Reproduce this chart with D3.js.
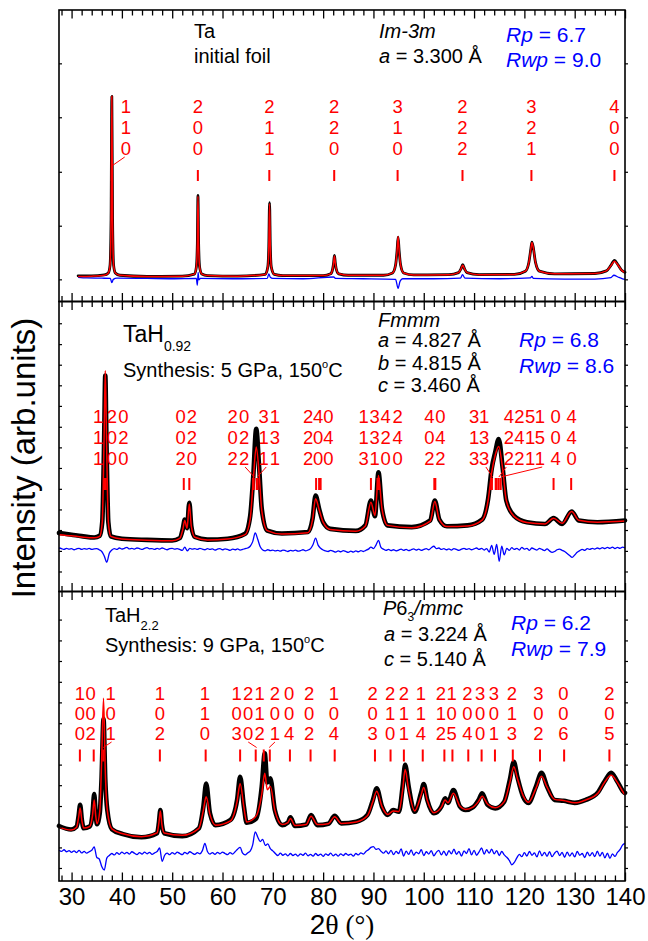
<!DOCTYPE html>
<html>
<head>
<meta charset="utf-8">
<script src="https://cdn.jsdelivr.net/npm/d3@7"></script>
<style>
  html, body { margin: 0; padding: 0; background: #fff; }
  svg text { font-family: Arial, "Liberation Sans", sans-serif; }
</style>
</head>
<body>
<svg id="chart" width="648" height="941"></svg>
<script>
/* XRD Rietveld fits: Ta foil, TaH0.92 (Fmmm), TaH2.2 (P63/mmc) — obs / calc / diff + hkl marks */

// ---- axis ----
var xDomain = [27.5, 140];
var xMajor = [30, 40, 50, 60, 70, 80, 90, 100, 110, 120, 130, 140];
var xMinor = [28, 32, 34, 36, 38, 42, 44, 46, 48, 52, 54, 56, 58, 62, 64, 66, 68, 72, 74, 76, 78,
  82, 84, 86, 88, 92, 94, 96, 98, 102, 104, 106, 108, 112, 114, 116, 118, 122, 124, 126, 128, 132, 134, 136, 138];

// ---- panel 1: Ta initial foil ----  [2theta, obs, calc]
var taProfile = [
  [31.3, 8.8, 8.6], [34, 8.8, 8.7], [36.5, 9.1, 9.0], [37.3, 9.8, 9.8], [37.65, 12.5, 12.5], [37.85, 28, 28],
  [38.0, 70.4, 70.4], [38.15, 28, 28], [38.35, 12.5, 12.5], [38.7, 9.8, 9.8], [39.6, 9.0, 9.0], [45, 8.6, 8.6],
  [52, 8.7, 8.7], [54.4, 9.4, 9.4], [54.8, 11.8, 11.8], [55.0, 20, 20], [55.12, 36.4, 36.2], [55.25, 20, 20],
  [55.45, 11.8, 11.8], [55.9, 9.4, 9.4], [57, 8.9, 8.9], [63, 8.7, 8.7], [68.5, 9.3, 9.3], [69.0, 11.8, 11.8],
  [69.2, 19, 19], [69.35, 33.9, 33.5], [69.5, 19, 19], [69.7, 11.8, 11.8], [70.3, 9.3, 9.3], [72, 8.9, 8.9],
  [80, 8.9, 8.9], [81.5, 9.5, 9.5], [81.9, 11.2, 11.2], [82.1, 13.5, 13.5], [82.25, 15.8, 15.6], [82.4, 13.5, 13.5],
  [82.6, 11.2, 11.2], [83.1, 9.5, 9.5], [85, 9.0, 9.0], [92, 9.0, 9.0], [93.8, 9.8, 9.8], [94.4, 12.5, 12.5],
  [94.7, 17.5, 17.5], [94.9, 22.1, 22.3], [95.1, 17.5, 17.5], [95.4, 12.5, 12.5], [96.0, 9.8, 9.8], [98, 9.1, 9.1],
  [105, 9.2, 9.2], [106.9, 9.9, 9.9], [107.4, 11.2, 11.2], [107.75, 12.6, 12.4], [108.1, 11.2, 11.2], [108.6, 9.9, 9.9],
  [111, 9.2, 9.2], [118, 9.3, 9.3], [120.2, 10.4, 10.4], [120.9, 13.5, 13.5], [121.3, 18.2, 18.2], [121.5, 20.4, 20.2],
  [121.8, 18.2, 18.2], [122.2, 13.5, 13.5], [123, 10.4, 10.4], [126, 9.5, 9.5], [134, 9.6, 9.6], [136.3, 10.5, 10.5],
  [137.2, 12.4, 12.3], [137.9, 14.1, 13.8], [138.6, 12.6, 12.5], [139.4, 10.6, 10.6], [140, 10.0, 10.0]
];
var taDiff = [
  [31.3, 8.3], [33, 8.1], [36, 8.0], [37.7, 7.9], [38.0, 6.5], [38.3, 7.6], [39, 8.0], [45, 7.9], [50, 7.8],
  [54.8, 7.9], [55.0, 5.6], [55.15, 10.0], [55.3, 7.4], [55.6, 7.9], [62, 7.8], [68.9, 7.9], [69.2, 9.5],
  [69.5, 8.3], [70, 7.9], [76, 7.8], [82.1, 8.4], [82.5, 7.9], [88, 7.8], [94.4, 7.6], [94.9, 4.5], [95.3, 7.0],
  [95.8, 7.8], [102, 7.8], [107.3, 8.0], [107.7, 9.2], [108.2, 8.0], [115, 7.8], [121.2, 8.1], [121.5, 8.6],
  [121.8, 7.9], [128, 7.7], [134, 7.7], [137.2, 8.2], [137.8, 9.0], [138.6, 8.4], [139.5, 7.8], [140, 7.6]
];
// [hkl, tick 2theta, label 2theta]
var taRefl = [['110', 38.0, 40.8], ['200', 55.1, 55.1], ['211', 69.3, 69.3], ['220', 82.2, 82.2],
  ['310', 94.8, 94.8], ['222', 107.7, 107.7], ['321', 121.4, 121.4], ['400', 137.9, 137.9]];
var taLinks = [[40.56, 37.99]];
var taYTicks = [7.6, 26.0, 44.5, 63.2, 81.7];

// ---- panel 2: TaH0.92 ----
var th1Profile = [
  [27.5, 20.2, 19.6], [30, 19.6, 19.2], [32, 19.1, 18.8], [34.5, 18.6, 18.5], [35.6, 19.2, 19.0], [36.1, 24, 24],
  [36.45, 50, 52], [36.7, 74.5, 76.2], [36.95, 50, 52], [37.3, 24, 24], [37.8, 19.0, 19.0], [40, 18.2, 18.1],
  [45, 17.8, 17.7], [50, 17.6, 17.5], [51.5, 18.4, 18.3], [52.1, 21.5, 21.3], [52.5, 24.8, 24.5], [52.95, 21.8, 21.8],
  [53.4, 30.6, 30.2], [53.8, 22.5, 22.5], [54.5, 18.8, 18.7], [57, 17.9, 17.8], [61, 18.2, 18.1], [64.5, 19.9, 19.6],
  [65.5, 26, 25], [66.1, 39.4, 38], [66.7, 56.1, 49.8], [67.3, 42.3, 40], [67.8, 28.5, 28], [68.9, 21, 21],
  [71.8, 20.0, 19.8], [77.0, 20.5, 20.3], [77.9, 25.1, 24.8], [78.5, 33.1, 32], [79.2, 28.5, 28.3], [80.0, 23.9, 23.9],
  [81.4, 21.6, 21.4], [86.5, 20.9, 20.8], [88.4, 22.8, 22.6], [89.5, 31.4, 30.8], [90.3, 26.0, 26.2], [91.0, 41.1, 40.0],
  [91.7, 28.5, 28.5], [92.8, 22.8, 22.8], [97.6, 22.2, 22.0], [101.3, 24.5, 24.3], [102.2, 31.4, 31.0], [103.1, 24.8, 24.8],
  [104.6, 22.5, 22.4], [108.7, 22.8, 22.6], [111.6, 24.8, 24.6], [112.8, 32, 31.5], [113.5, 42.3, 41], [114.2, 48, 47],
  [114.9, 52.6, 50], [115.7, 42.3, 42], [116.4, 31.4, 31.4], [117.9, 26.2, 26], [120.5, 23.9, 23.8], [124.1, 23.3, 23.3],
  [125.8, 25.3, 25.3], [127.5, 23.3, 23.5], [129.4, 27.6, 27.6], [130.8, 24.5, 24.6], [134.5, 23.9, 23.9], [140, 24.5, 24.3]
];
var diffStart = 27.5, diffStep = 0.5;
var th1Diff = [
  15.0, 14.8, 14.5, 14.9, 14.6, 14.8, 14.4, 14.7, 14.9, 14.5,
  14.8, 14.6, 14.9, 14.5, 14.7, 14.8, 14.4, 13.8, 12.2, 10.1,
  13.2, 14.3, 14.8, 14.5, 15.0, 14.6, 14.9, 15.2, 14.7, 14.9,
  14.6, 15.0, 14.8, 14.5, 14.9, 15.1, 14.7, 14.8, 14.5, 14.9,
  14.6, 15.0, 14.7, 14.4, 14.8, 14.9, 14.6, 14.8, 14.5, 14.2,
  15.3, 14.0, 14.9, 14.6, 14.8, 14.5, 14.9, 14.6, 14.4, 14.8,
  14.5, 14.7, 14.3, 14.6, 14.8, 14.4, 14.7, 14.5, 14.2, 14.6,
  14.4, 14.7, 14.3, 14.5, 14.8, 15.0, 15.6, 17.2, 20.2, 18.0,
  15.4, 14.3, 14.0, 14.4, 14.1, 14.3, 14.0, 14.2, 13.9, 14.3,
  14.1, 13.8, 14.2, 14.0, 14.3, 13.9, 14.1, 14.4, 14.0, 14.3,
  14.8, 16.2, 18.4, 16.0, 14.9, 14.3, 14.0, 13.8, 14.2, 13.9,
  13.6, 14.0, 13.7, 14.1, 13.8, 13.5, 13.9, 13.6, 14.0, 13.7,
  14.1, 13.8, 14.2, 14.6, 15.3, 14.8, 16.0, 17.6, 15.2, 14.6,
  14.2, 14.5, 14.1, 14.4, 14.0, 14.3, 14.6, 14.2, 14.5, 14.1,
  14.4, 14.7, 14.3, 14.6, 14.2, 14.5, 14.8, 14.4, 15.1, 15.6,
  14.8, 15.0, 14.5, 14.8, 14.4, 14.7, 14.3, 14.8, 14.5, 14.2,
  14.6, 14.9, 14.5, 14.8, 14.4, 14.7, 15.0, 14.5, 14.9, 14.3,
  14.8, 13.6, 15.9, 12.8, 16.2, 10.4, 15.6, 12.6, 14.9, 14.2,
  15.1, 14.5, 14.9, 14.3, 15.2, 14.6, 14.9, 14.2, 15.0, 14.6,
  14.3, 14.9, 14.5, 14.1, 14.7, 14.0, 13.5, 13.8, 14.4, 14.6,
  14.2, 13.8, 13.1, 12.4, 11.8, 12.6, 13.5, 14.1, 14.5, 14.2,
  14.8, 14.5, 14.9, 14.6, 15.0, 14.7, 15.1, 14.8, 15.2, 14.9,
  15.3, 14.8, 15.2, 14.9, 15.3, 15.0
];
var th1Refl = [
  ['111', 36.5, 35.3], ['200', 36.65, 38.0], ['020', 36.8, 40.3], ['002', 52.3, 51.7], ['220', 53.4, 53.9],
  ['202', 66.1, 62.0], ['022', 66.2, 64.3], ['311', 66.8, 68.2], ['131', 67.0, 70.4],
  ['222', 78.6, 77.0], ['400', 79.2, 79.0], ['040', 79.5, 81.05],
  ['113', 89.5, 88.05], ['331', 90.8, 90.25], ['420', 90.95, 92.45], ['240', 91.1, 94.8],
  ['402', 102.1, 101.1], ['042', 102.3, 103.3], ['313', 113.4, 110.0], ['133', 113.55, 112.0],
  ['422', 114.3, 116.9], ['242', 114.5, 119.0], ['511', 114.9, 121.15], ['151', 115.3, 123.1],
  ['004', 125.8, 126.2], ['440', 129.3, 129.4]
];
var th1Links = [[64.49, 66.32], [68.69, 66.92], [112.35, 113.68], [116.4, 114.93], [123.54, 115.29]];
var th1YTicks = [6.9, 14.0, 21.2, 28.3, 35.4, 42.6, 49.7, 56.8, 64.0, 71.1, 78.2, 85.3, 92.5];

// ---- panel 3: TaH2.2 ----
var th2Profile = [
  [27.5, 19.0, 18.6], [29.9, 17.8, 17.6], [31.0, 18.8, 18.6], [31.4, 22.5, 22], [31.7, 26.3, 25.2], [32.05, 21, 20.8],
  [32.4, 18.2, 18.3], [33.6, 18.8, 18.8], [34.15, 23, 22.5], [34.5, 30, 28], [34.8, 23, 22.5], [35.05, 19.6, 19.8],
  [35.6, 23.4, 24], [35.95, 35, 40], [36.35, 56, 63.1], [36.7, 35, 38], [37.1, 24.5, 24.5], [38.0, 17.9, 18.0],
  [40.2, 16.2, 16.3], [43.9, 15.1, 15.3], [47.0, 16.5, 16.6], [47.35, 20, 20], [47.65, 24.5, 24.2], [47.95, 19.5, 19.5],
  [48.4, 16.5, 16.6], [52.0, 15.5, 15.8], [55.3, 18.2, 18.2], [56.2, 25.7, 24.5], [56.75, 33.7, 29.1], [57.5, 23.4, 23],
  [58.6, 19.3, 19.3], [61.6, 21.1, 20.8], [62.9, 28, 27.5], [63.5, 36, 33.7], [64.25, 25.7, 25.5], [64.8, 20.1, 20.4],
  [66.7, 21.6, 22.5], [67.8, 32.6, 30], [68.4, 44.1, 37.2], [68.9, 34, 31.5], [69.5, 35.5, 32.6], [70.4, 24.5, 24.5],
  [71.85, 19.3, 19.5], [73.0, 20.2, 20.2], [73.5, 22.0, 21.6], [74.4, 19.0, 19.2], [76.65, 19.5, 19.5], [77.6, 22.8, 22.4],
  [78.85, 19.3, 19.5], [81.05, 19.8, 19.8], [82.3, 22.5, 22.2], [83.6, 19.9, 19.9], [86.6, 20.5, 20.4], [88.8, 22.8, 22.5],
  [89.9, 28, 27.5], [90.65, 32.0, 31.0], [91.7, 25.7, 25.7], [92.85, 22.8, 23.0], [93.9, 24.5, 24.2], [95.05, 23.9, 24],
  [95.8, 32.6, 31.5], [96.3, 40.1, 38.5], [97.0, 32.6, 31.5], [98.2, 23.9, 24.2], [99.45, 30.3, 29.5], [100.0, 33.5, 32.3],
  [100.7, 28, 27.8], [102.0, 23.4, 23.6], [103.5, 25.7, 25.5], [104.25, 28.6, 28], [104.8, 27, 27], [105.9, 31.4, 30.3],
  [107.2, 25.7, 25.8], [108.3, 24.5, 24.7], [109.8, 25.5, 25.5], [110.9, 28, 27.5], [111.6, 30.3, 29.3], [112.7, 26.3, 26.5],
  [114.2, 25.1, 25.3], [116.0, 27.4, 27.4], [117.1, 34.9, 34], [117.9, 41.2, 39.5], [118.6, 36, 35.5], [119.75, 29.1, 29.5],
  [120.8, 27, 27.2], [122.3, 32.6, 32], [123.4, 37.4, 36.2], [124.5, 32.6, 32.4], [126.0, 28, 28.2], [127.8, 27.7, 27.8],
  [130.0, 27, 27], [132.2, 28, 28], [134.7, 30.8, 30.5], [135.9, 34.3, 34], [137.25, 37.4, 36.5], [138.5, 34.3, 34],
  [139.7, 30.8, 30.5], [140, 30.4, 29.8]
];
var th2Diff = [
  10.6, 10.2, 10.8, 10.1, 10.5, 9.9, 10.4, 9.8, 10.6, 9.7,
  10.2, 9.6, 10.1, 10.6, 11.8, 8.2, 7.6, 5.0, 3.8, 7.9,
  8.8, 9.5, 9.0, 9.8, 9.2, 10.0, 9.4, 9.9, 9.3, 10.1,
  9.6, 9.1, 9.8, 9.3, 10.0, 9.4, 9.9, 9.2, 9.7, 10.2,
  11.4, 6.8, 8.9, 9.6, 9.1, 9.8, 9.3, 10.0, 9.5, 9.1,
  9.9, 9.4, 10.1, 9.6, 9.2, 9.8, 9.4, 10.5, 13.0, 10.2,
  9.3, 9.8, 9.2, 9.9, 9.4, 10.0, 9.5, 9.1, 9.8, 9.3,
  10.1, 11.0, 11.6, 9.6, 9.0, 9.7, 10.3, 12.5, 17.0, 15.2,
  13.6, 14.4, 12.3, 12.8, 11.2, 10.4, 9.5, 8.8, 9.6, 8.9,
  9.4, 8.7, 9.5, 8.8, 9.3, 8.6, 9.4, 8.9, 9.6, 8.7,
  9.2, 8.6, 9.5, 8.8, 9.3, 8.5, 9.4, 8.9, 9.6, 8.7,
  9.3, 8.6, 9.4, 8.8, 9.5, 8.9, 9.3, 8.6, 9.5, 9.0,
  9.7, 9.3, 10.2, 10.8, 11.6, 11.9, 10.9, 11.2, 10.3, 9.6,
  10.4, 9.4, 10.6, 9.1, 10.2, 9.5, 11.1, 8.6, 10.3, 9.2,
  10.7, 8.9, 10.0, 9.4, 10.8, 8.8, 10.1, 9.3, 10.5, 8.7,
  9.9, 10.6, 9.0, 10.3, 8.8, 10.5, 9.4, 11.0, 9.2, 10.2,
  8.6, 10.4, 9.5, 11.2, 9.0, 10.6, 8.9, 10.1, 11.4, 9.3,
  10.8, 9.6, 11.0, 9.4, 10.5, 8.8, 10.2, 9.0, 8.2, 7.1,
  5.6, 6.4, 8.0, 9.2, 8.4, 9.8, 8.6, 10.2, 8.9, 9.7,
  8.3, 10.4, 8.7, 9.9, 8.5, 10.1, 8.4, 9.6, 10.3, 8.8,
  9.9, 8.2, 10.0, 8.6, 9.7, 8.3, 10.2, 8.9, 9.5, 8.1,
  10.0, 8.7, 9.8, 8.4, 10.3, 8.6, 9.9, 8.0, 9.6, 7.8,
  9.4, 8.5, 9.9, 10.8, 12.4, 13.0
];
var th2Refl = [
  ['100', 31.65, 31.65], ['002', 34.4, 33.8], ['101', 36.3, 37.75], ['102', 47.55, 47.55], ['110', 56.65, 56.5],
  ['103', 63.5, 62.8], ['200', 66.6, 65.1], ['112', 68.2, 67.4], ['201', 69.4, 70.4], ['004', 73.4, 73.25],
  ['202', 77.5, 77.2], ['104', 82.3, 82.15], ['203', 90.3, 89.85], ['210', 93.4, 93.3], ['211', 96.05, 96.05],
  ['114', 99.8, 99.45], ['212', 104.1, 103.4], ['105', 105.7, 105.55], ['204', 108.85, 108.65], ['300', 111.5, 111.2],
  ['301', 114.15, 113.95], ['213', 117.7, 117.5], ['302', 123.1, 122.8], ['006', 127.9, 127.75], ['205', 136.9, 136.9]
];
var th2Links = [[37.95, 36.28], [65.11, 66.78], [70.42, 69.28]];
var th2YTicks = [4.5, 11.6, 18.8, 25.9, 33.1, 40.2, 47.4, 54.5, 61.7, 68.8, 76.0, 83.1, 90.3];

// ---- layout ----
var RED = '#ff0000', BLUE = '#0000ff';
var X0 = 59, X1 = 625;
var PANELS = [
  { top: 10, bottom: 301.5, profile: taProfile, diff: taDiff, refl: taRefl, links: taLinks, yTicks: taYTicks,
    rows: [113, 134, 155], mark: [170, 181], link: [157, 166], obsW: 2.8 },
  { top: 301.5, bottom: 591.5, profile: th1Profile, diff: th1Diff, refl: th1Refl, links: th1Links, yTicks: th1YTicks,
    rows: [423, 444, 465], mark: [478, 490], link: [467, 477], obsW: 4.6 },
  { top: 591.5, bottom: 881, profile: th2Profile, diff: th2Diff, refl: th2Refl, links: th2Links, yTicks: th2YTicks,
    rows: [700, 720, 740], mark: [749.5, 761.5], link: [742, 747.5], obsW: 4.6 }
];

var svg = d3.select('#chart');
svg.append('rect').attr('width', 648).attr('height', 941).attr('fill', '#fff');
var x = d3.scaleLinear().domain(xDomain).range([X0, X1]);

function toPts(arr) {
  // equally spaced diff arrays -> [2theta, value]
  if (typeof arr[0] === 'number') return arr.map(function (v, i) { return [diffStart + i * diffStep, v]; });
  return arr;
}

PANELS.forEach(function (p) {
  var y = d3.scaleLinear().domain([0, 100]).range([p.bottom, p.top]);
  var g = svg.append('g');
  var line = function (col) {
    return d3.line().x(function (d) { return x(d[0]); }).y(function (d) { return y(d[col]); }).curve(d3.curveMonotoneX);
  };
  // difference
  g.append('path').datum(toPts(p.diff)).attr('d', line(1)).attr('fill', 'none').attr('stroke', BLUE).attr('stroke-width', 1.3);
  // observed
  g.append('path').datum(p.profile).attr('d', line(1)).attr('fill', 'none').attr('stroke', '#000')
    .attr('stroke-width', p.obsW).attr('stroke-linejoin', 'round').attr('stroke-linecap', 'round');
  // calculated
  g.append('path').datum(p.profile).attr('d', line(2)).attr('fill', 'none').attr('stroke', RED).attr('stroke-width', 1.5);

  // Bragg marks + hkl
  var gm = g.append('g');
  gm.selectAll('line.mk').data(p.refl).enter().append('line').attr('class', 'mk')
    .attr('x1', function (d) { return x(d[1]); }).attr('x2', function (d) { return x(d[1]); })
    .attr('y1', p.mark[0]).attr('y2', p.mark[1]).attr('stroke', RED).attr('stroke-width', 2);
  p.refl.forEach(function (d) {
    for (var i = 0; i < 3; i++) {
      gm.append('text').attr('x', x(d[2])).attr('y', p.rows[i]).attr('text-anchor', 'middle')
        .attr('font-size', 18.5).attr('fill', RED).text(d[0].charAt(i));
    }
  });
  gm.selectAll('line.lk').data(p.links).enter().append('line').attr('class', 'lk')
    .attr('x1', function (d) { return x(d[0]); }).attr('x2', function (d) { return x(d[1]); })
    .attr('y1', p.link[0]).attr('y2', p.link[1]).attr('stroke', RED).attr('stroke-width', 1);

  // frame
  g.append('rect').attr('x', X0).attr('y', p.top).attr('width', X1 - X0).attr('height', p.bottom - p.top)
    .attr('fill', 'none').attr('stroke', '#000').attr('stroke-width', 1.6);

  // x ticks, inward at top and bottom
  [[xMajor, 8.5], [xMinor, 5.5]].forEach(function (t) {
    g.append('g').attr('transform', 'translate(0,' + p.bottom + ')')
      .call(d3.axisBottom(x).tickValues(t[0]).tickSize(-t[1]).tickFormat(''))
      .call(function (s) { s.select('.domain').remove(); s.selectAll('line').attr('stroke-width', 1.3); });
    g.append('g').attr('transform', 'translate(0,' + p.top + ')')
      .call(d3.axisTop(x).tickValues(t[0]).tickSize(-t[1]).tickFormat(''))
      .call(function (s) { s.select('.domain').remove(); s.selectAll('line').attr('stroke-width', 1.3); });
  });
  // y ticks
  g.append('g').attr('transform', 'translate(' + X0 + ',0)')
    .call(d3.axisLeft(y).tickValues(p.yTicks).tickSize(-3).tickFormat(''))
    .call(function (s) { s.select('.domain').remove(); s.selectAll('line').attr('stroke-width', 1.2); });
  g.append('g').attr('transform', 'translate(' + X1 + ',0)')
    .call(d3.axisRight(y).tickValues(p.yTicks).tickSize(3).tickFormat(''))
    .call(function (s) { s.select('.domain').remove(); s.selectAll('line').attr('stroke-width', 1.2); });
});

// bottom tick labels
var xa = svg.append('g').attr('transform', 'translate(0,881)')
  .call(d3.axisBottom(x).tickValues(xMajor).tickSize(0).tickPadding(7).tickFormat(d3.format('d')));
xa.select('.domain').remove();
xa.selectAll('text').attr('font-size', 24).attr('fill', '#000').attr('font-family', 'Arial, "Liberation Sans", sans-serif');

// ---- annotations ----
function label(px, py, size, fill, parts) {
  var t = svg.append('text').attr('x', px).attr('y', py).attr('font-size', size).attr('fill', fill);
  parts.forEach(function (pt) {
    var s = t.append('tspan').text(pt[0]);
    var o = pt[1] || {};
    if (o.it) s.attr('font-style', 'italic');
    if (o.size) s.attr('font-size', o.size);
    if (o.dy) s.attr('dy', o.dy);
    if (o.font) s.attr('font-family', o.font);
  });
  return t;
}
// panel 1
label(194, 37.5, 20, '#000', [['Ta']]);
label(194, 63, 20, '#000', [['initial foil']]);
label(379, 37.5, 20, '#000', [['Im-3m', { it: 1 }]]);
label(379, 63, 20, '#000', [['a', { it: 1 }], [' = 3.300 Å']]);
label(506, 42, 21, BLUE, [['Rp', { it: 1 }], [' = 6.7']]);
label(506, 67, 21, BLUE, [['Rwp', { it: 1 }], [' = 9.0']]);
// panel 2
label(123, 341.5, 23, '#000', [['TaH'], ['0.92', { size: 14, dy: 9 }]]);
label(123, 377, 20, '#000', [['Synthesis: 5 GPa, 150'], ['o', { size: 11, dy: -9 }], ['C', { dy: 9 }]]);
label(378, 327, 20, '#000', [['Fmmm', { it: 1 }]]);
label(378, 347, 20, '#000', [['a', { it: 1 }], [' = 4.827 Å']]);
label(378, 369.5, 20, '#000', [['b', { it: 1 }], [' = 4.815 Å']]);
label(378, 392, 20, '#000', [['c', { it: 1 }], [' = 3.460 Å']]);
label(519, 347, 21, BLUE, [['Rp', { it: 1 }], [' = 6.8']]);
label(519, 372.5, 21, BLUE, [['Rwp', { it: 1 }], [' = 8.6']]);
// panel 3
label(105, 621.5, 20, '#000', [['TaH'], ['2.2', { size: 13, dy: 8 }]]);
label(105, 652, 20, '#000', [['Synthesis: 9 GPa, 150'], ['o', { size: 11, dy: -9 }], ['C', { dy: 9 }]]);
label(383, 615, 20, '#000', [['P', { it: 1 }], ['6'], ['3', { size: 12, dy: 6 }], ['/mmc', { it: 1, dy: -6 }]]);
label(384, 641, 20, '#000', [['a', { it: 1 }], [' = 3.224 Å']]);
label(384, 666, 20, '#000', [['c', { it: 1 }], [' = 5.140 Å']]);
label(511, 630, 21, BLUE, [['Rp', { it: 1 }], [' = 6.2']]);
label(511, 656, 21, BLUE, [['Rwp', { it: 1 }], [' = 7.9']]);

// axis titles
svg.append('text').attr('transform', 'translate(35,458) rotate(-90)').attr('text-anchor', 'middle')
  .attr('font-size', 33).attr('fill', '#000').text('Intensity (arb.units)');
label(342, 934, 28, '#000', [['2'], ['θ', { font: '"Liberation Serif", "DejaVu Serif", serif' }],
  [' (°)', { font: '"Liberation Serif", "DejaVu Serif", serif', size: 27 }]]).attr('text-anchor', 'middle');
</script>
</body>
</html>
